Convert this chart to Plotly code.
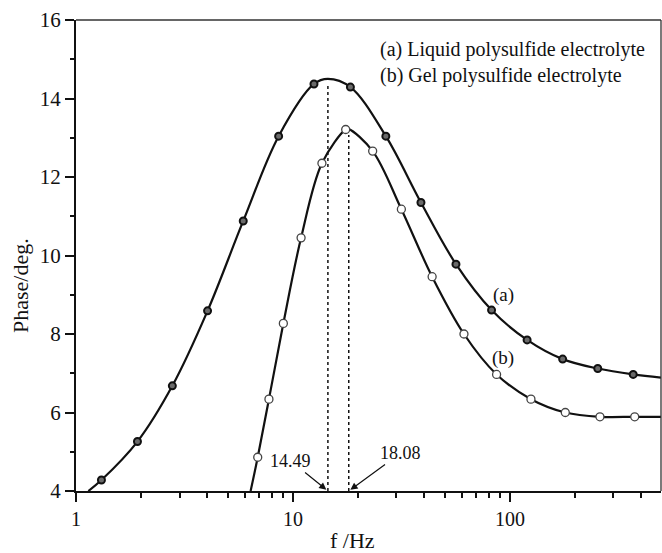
import numpy as np
import plotly.graph_objects as go

# ---- data ----
# (a) Liquid polysulfide electrolyte: measured points
freq_a = [1.31, 1.92, 2.78, 4.04, 5.90, 8.59, 12.5, 18.4, 26.8, 38.9, 56.4, 82.3, 120, 175, 254, 370]
phase_a = [4.28, 5.26, 6.68, 8.59, 10.88, 13.04, 14.37, 14.29, 13.04, 11.35, 9.78, 8.61, 7.85, 7.36, 7.12, 6.97]
# (b) Gel polysulfide electrolyte: measured points
freq_b = [6.88, 7.75, 9.03, 10.9, 13.6, 17.5, 23.3, 31.6, 43.8, 61.4, 86.8, 125, 180, 260, 376]
phase_b = [4.86, 6.34, 8.27, 10.45, 12.35, 13.21, 12.66, 11.18, 9.46, 8.00, 6.97, 6.34, 6.00, 5.89, 5.89]

# fitted curves (start, peak, end points added)
fit_a_f = [1.14, 1.31, 1.92, 2.78, 4.04, 5.90, 8.59, 12.5, 14.49, 18.4, 26.8, 38.9, 56.4, 82.3, 120, 175, 254, 370, 497]
fit_a_p = [4.00, 4.28, 5.26, 6.68, 8.59, 10.88, 13.04, 14.37, 14.50, 14.29, 13.04, 11.35, 9.78, 8.61, 7.85, 7.36, 7.12, 6.97, 6.89]
fit_b_f = [6.38, 6.88, 7.75, 9.03, 10.9, 13.6, 17.5, 18.08, 23.3, 31.6, 43.8, 61.4, 86.8, 125, 180, 260, 376, 497]
fit_b_p = [4.00, 4.86, 6.34, 8.27, 10.45, 12.35, 13.21, 13.22, 12.66, 11.18, 9.46, 8.00, 6.97, 6.34, 6.00, 5.89, 5.89, 5.89]

# peak frequencies
peak_f = [14.49, 18.08]
peak_p = [14.50, 13.22]
peak_labels = ["14.49", "18.08"]

y_min, y_max = 4, 16
x_min, x_max = 1, 497
x_tickvals = [1, 10, 100]
x_ticktext = ["1", "10", "100"]
x_minor = [2, 3, 4, 5, 6, 7, 8, 9, 20, 30, 40, 50, 60, 70, 80, 90, 200, 300, 400]

FONT = "Liberation Serif, Times New Roman, serif"
INK = "#111"

# plot area in page pixels
PX_L, PX_R, PX_T, PX_B = 76, 661, 20, 491
PW, PH = PX_R - PX_L, PX_B - PX_T
W, H = 662, 553


def px(xp):
    return (xp - PX_L) / PW


def py(yp):
    return (PX_B - yp) / PH


fig = go.Figure()

fig.add_trace(go.Scatter(x=fit_a_f, y=fit_a_p, mode="lines",
                         line=dict(color=INK, width=2.2, shape="spline", smoothing=1.0),
                         hoverinfo="skip", showlegend=False))
fig.add_trace(go.Scatter(x=fit_b_f, y=fit_b_p, mode="lines",
                         line=dict(color=INK, width=2.2, shape="spline", smoothing=1.0),
                         hoverinfo="skip", showlegend=False))

# dotted peak lines
for f, p in zip(peak_f, peak_p):
    fig.add_trace(go.Scatter(x=[f, f], y=[y_min, p - 0.15], mode="lines",
                             line=dict(color=INK, width=1.5, dash="dot"),
                             hoverinfo="skip", showlegend=False))

fig.add_trace(go.Scatter(x=freq_a, y=phase_a, mode="markers",
                         marker=dict(size=7, color="#6a6a6a", line=dict(color=INK, width=2)),
                         name="(a)", showlegend=False))
fig.add_trace(go.Scatter(x=freq_b, y=phase_b, mode="markers",
                         marker=dict(size=8, color="white", line=dict(color="#444", width=1.3)),
                         name="(b)", showlegend=False))

# peak annotations with arrows (offsets in pixels from arrow head)
fig.add_annotation(x=np.log10(peak_f[0]), y=y_min, xref="x", yref="y",
                   ax=-37, ay=-30,
                   text=peak_labels[0], showarrow=True, arrowhead=2, arrowsize=1.2,
                   arrowwidth=1.2, arrowcolor=INK, standoff=2,
                   font=dict(family=FONT, size=18, color=INK))
fig.add_annotation(x=np.log10(peak_f[1]), y=y_min, xref="x", yref="y",
                   ax=52, ay=-38,
                   text=peak_labels[1], showarrow=True, arrowhead=2, arrowsize=1.2,
                   arrowwidth=1.2, arrowcolor=INK, standoff=2,
                   font=dict(family=FONT, size=18, color=INK))

fig.update_layout(
    width=W, height=H,
    margin=dict(l=PX_L, r=W - PX_R, t=PX_T, b=H - PX_B),
    paper_bgcolor="white", plot_bgcolor="white",
    font=dict(family=FONT, size=20, color=INK),
    showlegend=False,
    xaxis=dict(type="log", range=[np.log10(x_min), np.log10(x_max)],
               tickmode="array", tickvals=x_tickvals, ticktext=x_ticktext,
               ticks="outside", ticklen=9, tickwidth=2, tickcolor=INK,
               showgrid=False, zeroline=False,
               showline=True, linecolor=INK, linewidth=2,
               minor=dict(tickmode="array", tickvals=x_minor, ticks="outside",
                          ticklen=5, tickwidth=1.5, tickcolor=INK, showgrid=False),
               tickfont=dict(family=FONT, size=20, color=INK)),
    yaxis=dict(range=[y_min, y_max], dtick=2,
               ticks="outside", ticklen=9, tickwidth=2, tickcolor=INK,
               showgrid=False, zeroline=False,
               showline=True, linecolor=INK, linewidth=2,
               minor=dict(dtick=1, ticks="outside", ticklen=4, tickwidth=1.5,
                          tickcolor=INK, showgrid=False),
               tickfont=dict(family=FONT, size=21, color=INK)),
    shapes=[
        dict(type="line", xref="paper", yref="paper", x0=0, x1=1, y0=1, y1=1,
             line=dict(color="#333", width=1.3)),
        dict(type="line", xref="paper", yref="paper", x0=1, x1=1, y0=0, y1=1,
             line=dict(color="#333", width=1.3)),
    ],
)

# axis titles
fig.add_annotation(xref="paper", yref="paper", x=px(20), y=py(285),
                   text="Phase/deg.", textangle=-90, showarrow=False,
                   xanchor="center", yanchor="middle",
                   font=dict(family=FONT, size=22, color=INK))
fig.add_annotation(xref="paper", yref="paper", x=px(352), y=py(540),
                   text="f /Hz", showarrow=False, xanchor="center", yanchor="middle",
                   font=dict(family=FONT, size=22, color=INK))

# legend-like texts
fig.add_annotation(xref="paper", yref="paper", x=px(378), y=py(50),
                   text="(a) Liquid polysulfide electrolyte", showarrow=False,
                   xanchor="left", yanchor="middle",
                   font=dict(family=FONT, size=20, color=INK))
fig.add_annotation(xref="paper", yref="paper", x=px(378), y=py(76),
                   text="(b) Gel polysulfide electrolyte", showarrow=False,
                   xanchor="left", yanchor="middle",
                   font=dict(family=FONT, size=20, color=INK))
fig.add_annotation(xref="paper", yref="paper", x=px(503), y=py(295),
                   text="(a)", showarrow=False, xanchor="center", yanchor="middle",
                   font=dict(family=FONT, size=19, color=INK))
fig.add_annotation(xref="paper", yref="paper", x=px(503), y=py(358),
                   text="(b)", showarrow=False, xanchor="center", yanchor="middle",
                   font=dict(family=FONT, size=19, color=INK))

fig.write_html("out.html",
               config={"displayModeBar": False},
               post_script="document.body.style.margin='0';"
                           "document.body.style.overflow='hidden';")
